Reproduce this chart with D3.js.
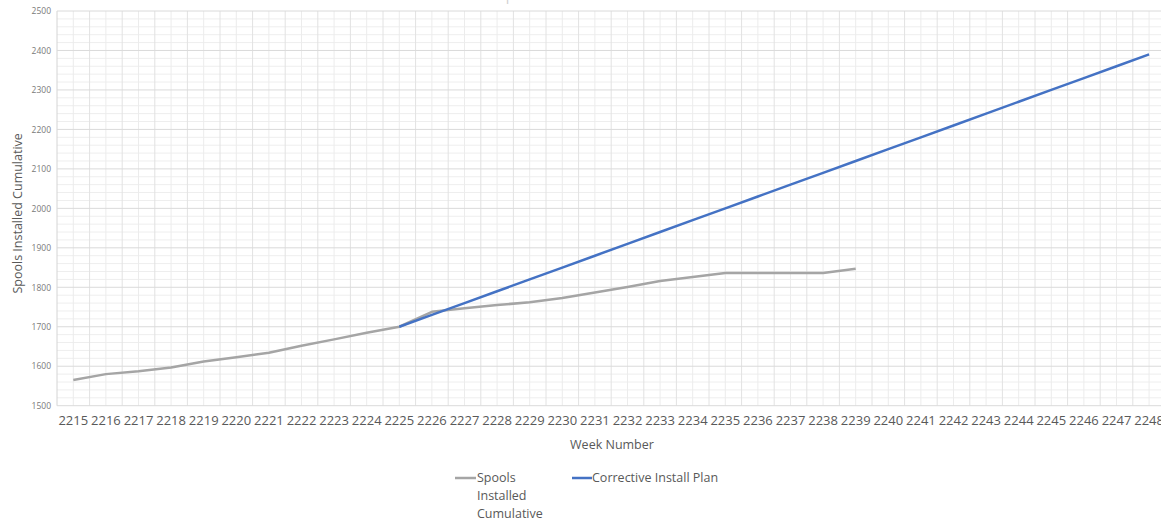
<!DOCTYPE html>
<html>
<head>
<meta charset="utf-8">
<script src="https://cdn.jsdelivr.net/npm/d3@7"></script>
<style>
body { margin: 0; background: #fff; }
text { font-family: "Open Sans", sans-serif; }
</style>
</head>
<body>
<svg id="chart" width="1161" height="521"></svg>
<script>
var weeks = ["2215", "2216", "2217", "2218", "2219", "2220", "2221", "2222", "2223", "2224",
    "2225", "2226", "2227", "2228", "2229", "2230", "2231", "2232", "2233", "2234",
    "2235", "2236", "2237", "2238", "2239", "2240", "2241", "2242", "2243", "2244",
    "2245", "2246", "2247", "2248"];

// Spools Installed Cumulative, weeks 2215..2239
var installedWeeks = weeks.slice(0, 25);
var installed = [1565, 1580, 1587, 1597, 1612, 1623, 1634, 1652, 1668, 1685,
    1700, 1738, 1747, 1755, 1762, 1773, 1787, 1801, 1816, 1826,
    1836, 1836, 1836, 1836, 1847];

// Corrective Install Plan, weeks 2225..2248
var planWeeks = weeks.slice(10);
var plan = [1700, 1730, 1760, 1790, 1820, 1850, 1880, 1910, 1940, 1970,
    2000, 2030, 2060, 2090, 2120, 2150, 2180, 2210, 2240, 2270,
    2300, 2330, 2360, 2390];

var yTicks = [1500, 1600, 1700, 1800, 1900, 2000, 2100, 2200, 2300, 2400, 2500];

var margin = {top: 11, left: 57};
var bandW = 32.6;
var plotH = 394.7;

var svg = d3.select("#chart");

var x = d3.scaleBand()
    .domain(weeks)
    .range([margin.left, margin.left + bandW * weeks.length]);
var y = d3.scaleLinear()
    .domain([1500, 2500])
    .range([margin.top + plotH, margin.top]);

var x0 = x.range()[0], x1 = x.range()[1];

// title, mostly cut off by the top edge
svg.append("text")
    .attr("x", 588).attr("y", 0)
    .attr("text-anchor", "middle")
    .attr("font-size", 14)
    .attr("fill", "#d0d0d0")
    .text("Spools Installed Cumulative");

var grid = svg.append("g");

// minor horizontal grid every 20
grid.selectAll("line.hmin")
    .data(d3.range(1520, 2500, 20).filter(function (d) { return d % 100 !== 0; }))
    .enter().append("line")
    .attr("x1", x0).attr("x2", x1)
    .attr("y1", function (d) { return y(d); })
    .attr("y2", function (d) { return y(d); })
    .attr("stroke", "#eeeeee");

// vertical grid at category centres
grid.selectAll("line.vmin")
    .data(weeks)
    .enter().append("line")
    .attr("x1", function (d) { return x(d) + bandW / 2; })
    .attr("x2", function (d) { return x(d) + bandW / 2; })
    .attr("y1", y(2500)).attr("y2", y(1500))
    .attr("stroke", "#ececec");

// vertical grid at category boundaries
grid.selectAll("line.vmaj")
    .data(weeks)
    .enter().append("line")
    .attr("x1", function (d) { return x(d); })
    .attr("x2", function (d) { return x(d); })
    .attr("y1", y(2500)).attr("y2", y(1500))
    .attr("stroke", function (d, i) { return i === 0 ? "#d4d4d4" : "#e2e2e2"; });

// major horizontal grid
grid.selectAll("line.hmaj")
    .data(yTicks)
    .enter().append("line")
    .attr("x1", x0).attr("x2", x1)
    .attr("y1", function (d) { return y(d); })
    .attr("y2", function (d) { return y(d); })
    .attr("stroke", "#dadada");

// axes
var yAxis = svg.append("g")
    .attr("transform", "translate(" + (x0 - 6) + ",0)")
    .call(d3.axisLeft(y).tickValues(yTicks).tickFormat(d3.format("d")).tickSize(0).tickPadding(0));
yAxis.select(".domain").remove();
yAxis.selectAll("text")
    .attr("font-family", "Open Sans, sans-serif")
    .attr("font-size", 8.5)
    .attr("fill", "#7a7a7a");

var xAxis = svg.append("g")
    .attr("transform", "translate(0," + (y(1500) + 10) + ")")
    .call(d3.axisBottom(x).tickSize(0).tickPadding(0));
xAxis.select(".domain").remove();
xAxis.selectAll("text")
    .attr("font-family", "Open Sans, sans-serif")
    .attr("font-size", 13)
    .attr("fill", "#595959");

svg.append("text")
    .attr("x", 612).attr("y", 449)
    .attr("text-anchor", "middle")
    .attr("font-size", 12.5)
    .attr("fill", "#595959")
    .text("Week Number");

svg.append("text")
    .attr("transform", "translate(22," + (y(2000) + 5) + ") rotate(-90)")
    .attr("text-anchor", "middle")
    .attr("font-size", 12.5)
    .attr("fill", "#595959")
    .text("Spools Installed Cumulative");

// series
var line = d3.line()
    .x(function (d) { return x(d.week) + bandW / 2; })
    .y(function (d) { return y(d.value); });

var installedData = installedWeeks.map(function (w, i) { return {week: w, value: installed[i]}; });
var planData = planWeeks.map(function (w, i) { return {week: w, value: plan[i]}; });

svg.append("path")
    .datum(installedData)
    .attr("d", line)
    .attr("fill", "none")
    .attr("stroke", "#a5a5a5")
    .attr("stroke-width", 2.5)
    .attr("stroke-linejoin", "round");

svg.append("path")
    .datum(planData)
    .attr("d", line)
    .attr("fill", "none")
    .attr("stroke", "#4472c4")
    .attr("stroke-width", 2.5)
    .attr("stroke-linejoin", "round");

// legend
var legend = svg.append("g");
legend.append("line")
    .attr("x1", 455).attr("x2", 476)
    .attr("y1", 478).attr("y2", 478)
    .attr("stroke", "#a5a5a5").attr("stroke-width", 2.5);
var lt = legend.append("text")
    .attr("x", 477).attr("y", 482)
    .attr("font-size", 12.5)
    .attr("fill", "#595959");
["Spools", "Installed", "Cumulative"].forEach(function (s, i) {
    lt.append("tspan").attr("x", 477).attr("dy", i === 0 ? 0 : 18).text(s);
});
legend.append("line")
    .attr("x1", 572).attr("x2", 592)
    .attr("y1", 478).attr("y2", 478)
    .attr("stroke", "#4472c4").attr("stroke-width", 2.5);
legend.append("text")
    .attr("x", 592).attr("y", 482)
    .attr("font-size", 12.5)
    .attr("fill", "#595959")
    .text("Corrective Install Plan");
</script>
</body>
</html>
